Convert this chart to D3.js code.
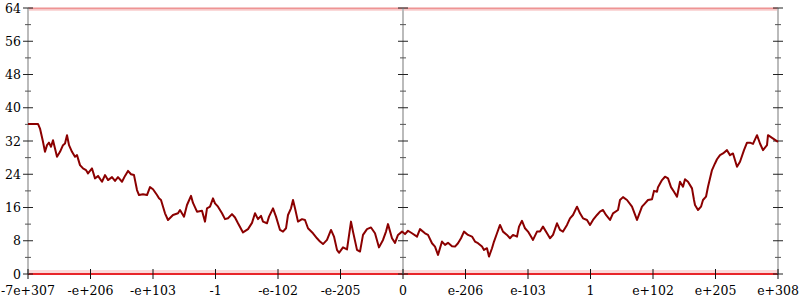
<!DOCTYPE html>
<html><head><meta charset="utf-8">
<script src="https://cdn.jsdelivr.net/npm/d3@7"></script>
<style>body{margin:0;background:#fff}svg{display:block}text{font-family:'DejaVu Serif',serif}</style>
</head><body>
<svg id="c" width="800" height="300"></svg>
<script>
// x position in bins (0..750), value
const bins = [0,10,12,15,17,19,21,23,25,27,29,32,35,37,39,41,44,47,49,52,55,58,60,64,67,70,74,77,80,84,87,90,94,97,100,103,106,109,111,115,119,122,125,129,131,133,137,140,145,150,152,156,159,163,165,169,174,177,179,182,185,187,190,194,197,200,204,207,210,215,220,224,227,230,233,235,239,241,245,248,252,255,258,260,263,265,267,270,274,277,280,285,289,292,295,299,303,306,309,311,315,319,323,325,329,332,335,339,343,347,351,355,358,360,364,367,370,374,377,380,384,389,392,397,400,404,407,410,414,417,420,424,427,430,433,436,440,444,447,450,454,456,459,461,464,466,469,472,475,479,482,485,489,491,494,497,500,503,505,509,512,515,519,522,525,529,532,535,539,542,545,549,552,555,559,562,565,569,572,575,578,582,585,590,592,595,599,604,609,614,617,620,624,626,629,630,634,637,640,643,646,649,652,655,657,660,664,666,667,670,673,675,678,680,684,687,689,692,695,699,702,705,709,712,716,719,722,725,729,732,735,739,740,750];
const values = [36.1,36.1,35,31.8,29.4,31,31.6,30.6,32.2,30.2,28.2,29.4,31,31.4,33.4,31,29.4,28.2,28.6,26.2,25.4,25,24.2,25.4,23,23.6,22.2,23.8,22.6,23.3,22.4,23.3,22.2,23.6,24.8,24,23.8,20.2,19,19.2,19,20.9,20.4,19,18.2,17.8,14.6,13,14.2,14.6,15.4,13.8,16.6,18.8,17.1,15,15.2,12.6,15.8,16.2,18.2,17,16.2,14.6,13.2,13.4,14.4,13.6,12.2,10,10.8,12.3,14.6,13.2,14,12.6,12.2,13.8,15.8,13.8,10.6,10.2,11,14.2,15.8,17.8,15.8,12.6,13.2,13,11,9.8,8.6,7.8,7.2,8.2,10.6,9,5.8,5.1,6.4,5.9,12.6,10.2,5.8,5.4,9.4,10.8,11.2,9.8,6.4,8.2,10.2,12,8.6,7.5,9.4,10.2,9.6,10.4,9.8,9,10.8,9.8,9.4,7.4,6.6,4.6,7.8,7,7.5,6.7,6.6,7.4,8.6,10.2,9.4,9,7.8,7.4,6.6,5.8,6.2,4.2,6.2,7.8,9.8,11.8,10.2,9.4,8.6,9.4,9,11.4,12.8,11,10.2,9,8.2,10.2,10.2,11.4,9.8,8.6,9.4,12.2,10.6,10.2,11.8,13.4,14.2,16.2,14.6,13.4,13,11.8,13,14.2,15,15.4,14.2,13,14.6,15.4,17.8,18.5,17.8,16.2,13,16.2,17,17.8,18,20,19.8,20.9,22.6,23.4,23,20.9,19.8,18.6,22.2,21,22.8,22.2,20.6,17.8,16.6,15.4,16.2,17.8,18.6,21,25,26.6,27.6,28.6,29,29.8,28.6,29,25.8,27,29.8,31.6,31.6,31.3,33.4,31.4,29.8,31,33.4,31.8,32.4,32.9,32,32];
const tickBins = [0,62.5,125,187.5,250,312.5,375,437.5,500,562.5,625,687.5,750];
const tickLabels = ["-7e+307","-e+206","-e+103","-1","-e-102","-e-205","0","e-206","e-103","1","e+102","e+205","e+308"];
const yTicks = [0,8,16,24,32,40,48,56,64];
const yMinor = [4,12,20,28,36,44,52,60];
const bandValues = [0,64];
const axisBins = [0,375,750];

const svg = d3.select("#c");
const x = d3.scaleLinear().domain([0,750]).range([28,778]);
const y = d3.scaleLinear().domain([0,64]).range([274,8]);

// faint red bands at y=0 and y=64
svg.selectAll("line.band").data(bandValues).enter().append("line")
  .attr("x1", x(0)).attr("x2", x(750))
  .attr("y1", d => y(d) - (d===0?2:-1)).attr("y2", d => y(d) - (d===0?2:-1))
  .attr("stroke", "#f08080").attr("stroke-opacity", 0.3).attr("stroke-width", 4);
svg.append("line").attr("x1", x(0)).attr("x2", x(750)).attr("y1", y(0)).attr("y2", y(0))
  .attr("stroke", "#e8262a").attr("stroke-width", 2);
svg.append("line").attr("x1", x(0)).attr("x2", x(750)).attr("y1", y(64)+0.5).attr("y2", y(64)+0.5)
  .attr("stroke", "#e04040").attr("stroke-opacity", 0.45).attr("stroke-width", 1.5);

// vertical axes
axisBins.forEach(b => {
  const g = svg.append("g");
  g.append("line").attr("x1", x(b)).attr("x2", x(b)).attr("y1", y(64)).attr("y2", y(0))
    .attr("stroke", "#bbb").attr("stroke-width", 2);
  g.selectAll("line.maj").data(yTicks).enter().append("line")
    .attr("x1", x(b)-5).attr("x2", x(b)+5).attr("y1", d => y(d)).attr("y2", d => y(d))
    .attr("stroke", "#222").attr("stroke-width", 1);
  g.selectAll("line.min").data(yMinor).enter().append("line")
    .attr("x1", x(b)-3).attr("x2", x(b)+3).attr("y1", d => y(d)).attr("y2", d => y(d))
    .attr("stroke", "#555").attr("stroke-width", 1);
});

// y labels
svg.selectAll("text.yl").data(yTicks).enter().append("text")
  .attr("x", 21).attr("y", d => y(d)).attr("dy", "0.36em")
  .attr("text-anchor", "end").attr("font-size", 12.5)
  .attr("fill", "#000").text(d => d);

// x ticks and labels
svg.selectAll("line.xt").data(tickBins).enter().append("line")
  .attr("x1", d => x(d)).attr("x2", d => x(d)).attr("y1", y(0)-5).attr("y2", y(0)+5)
  .attr("stroke", "#111").attr("stroke-width", 1);
svg.selectAll("text.xl").data(tickBins).enter().append("text")
  .attr("x", d => x(d)).attr("y", 295).attr("text-anchor", "middle")
  .attr("font-size", 12.5).attr("fill", "#000")
  .text((d,i) => tickLabels[i]);

// main line
const pts = bins.map((b,i) => [b, values[i]]);
svg.append("path").datum(pts)
  .attr("d", d3.line().x(d => x(d[0])).y(d => y(d[1])))
  .attr("fill", "none").attr("stroke", "#8b0000").attr("stroke-width", 2)
  .attr("stroke-linejoin", "round");
</script>
</body></html>
